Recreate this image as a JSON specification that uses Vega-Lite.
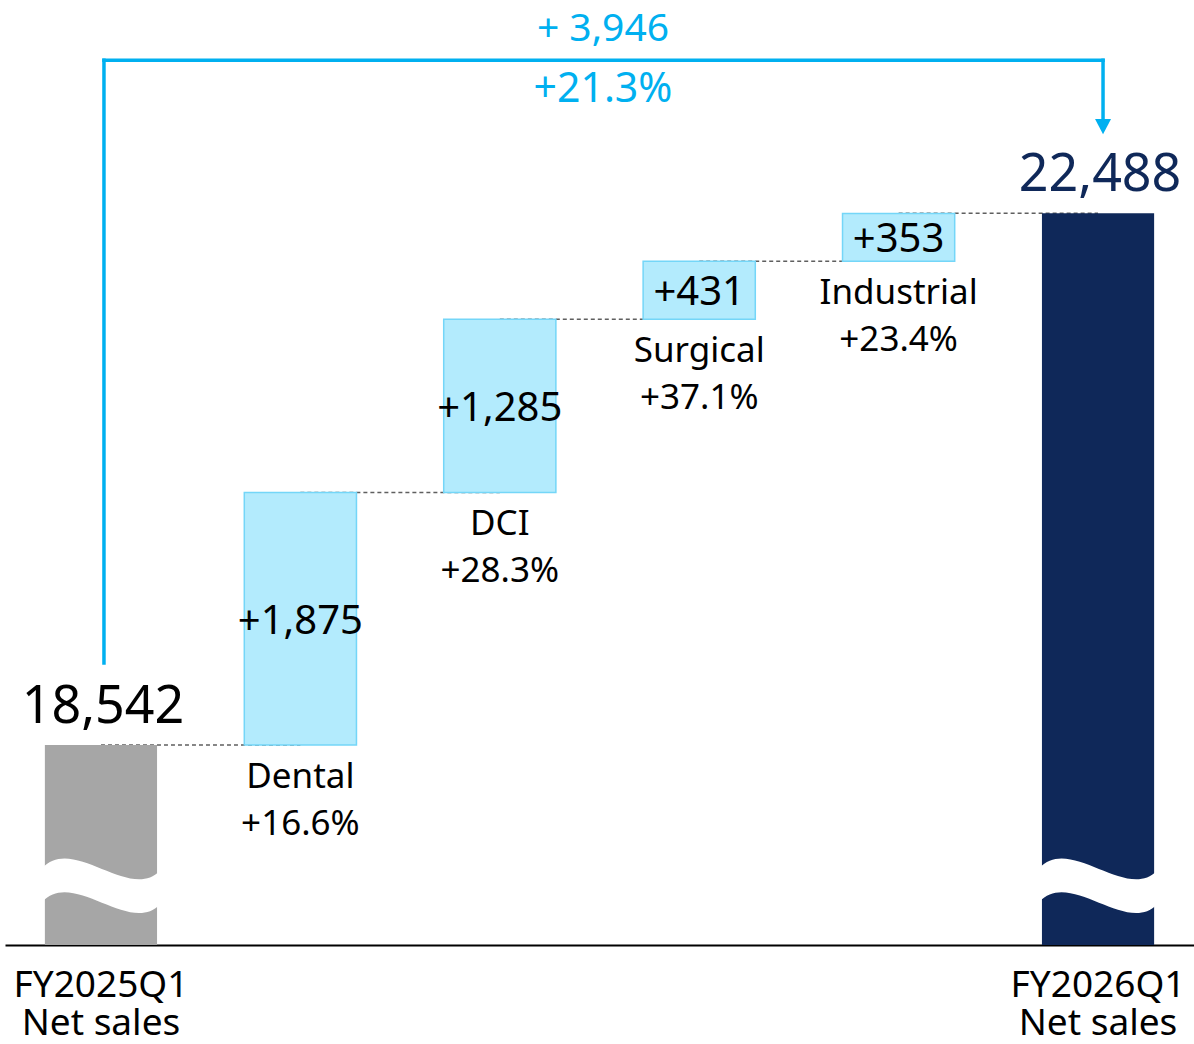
{
  "$schema": "https://vega.github.io/schema/vega-lite/v6.json",
  "width": 1189,
  "height": 945,
  "autosize": {"type": "none"},
  "padding": {"left": 5, "top": 0, "right": 0, "bottom": 99},
  "background": "white",
  "config": {
    "view": {"stroke": null},
    "font": "Noto Sans",
    "axisX": {
      "domain": true, "domainColor": "black", "domainWidth": 2,
      "ticks": false, "tickSize": 0, "grid": false,
      "labelPadding": 22, "labelFontSize": 37, "labelFont": "Noto Sans", "labelColor": "black",
      "labelLineHeight": 38, "labelAngle": 0, "labelLimit": 0, "labelOverlap": false,
      "labelExpr": "indexof(datum.value,'|') >= 0 ? split(datum.value,'|') : ''"
    }
  },
  "datasets": {
    "steps": [
      {"cat": "FY2025Q1|Net sales", "kind": "prev", "start": null, "end": 18542, "value": "18,542", "name": ""},
      {"cat": "Dental", "kind": "delta", "start": 18542, "end": 20417, "value": "+1,875", "name": "Dental\n+16.6%"},
      {"cat": "DCI", "kind": "delta", "start": 20417, "end": 21702, "value": "+1,285", "name": "DCI\n+28.3%"},
      {"cat": "Surgical", "kind": "delta", "start": 21702, "end": 22133, "value": "+431", "name": "Surgical\n+37.1%"},
      {"cat": "Industrial", "kind": "delta", "start": 22133, "end": 22486, "value": "+353", "name": "Industrial\n+23.4%"},
      {"cat": "FY2026Q1|Net sales", "kind": "cur", "start": null, "end": 22488, "value": "22,488", "name": ""}
    ],
    "links": [
      {"a": "FY2025Q1|Net sales", "b": "Dental", "v": 18542},
      {"a": "Dental", "b": "DCI", "v": 20417},
      {"a": "DCI", "b": "Surgical", "v": 21702},
      {"a": "Surgical", "b": "Industrial", "v": 22133},
      {"a": "Industrial", "b": "FY2026Q1|Net sales", "v": 22488}
    ],
    "total": [
      {"from": "FY2025Q1|Net sales", "to": "FY2026Q1|Net sales", "v0": 18542, "v1": 22488, "diff": "+ 3,946", "pct": "+21.3%"}
    ]
  },
  "layer": [
    {
      "data": {"name": "links"},
      "mark": {"type": "rule", "stroke": "#5f5f5f", "strokeWidth": 1.5, "strokeDash": [4, 3]},
      "encoding": {
        "x": {"field": "a", "type": "nominal", "title": null, "scale": {"domain": ["FY2025Q1|Net sales", "Dental", "DCI", "Surgical", "Industrial", "FY2026Q1|Net sales"], "paddingInner": 0.4375, "paddingOuter": 0.2}},
        "x2": {"field": "b"},
        "y": {"field": "v", "type": "quantitative", "axis": null, "scale": {"domain": [17058, 24071], "nice": false, "zero": false}}
      }
    },
    {
      "data": {"name": "steps"},
      "transform": [{"filter": "datum.kind == 'delta'"}],
      "mark": {"type": "bar", "fill": "#b3ebfd", "stroke": "#74d6f8", "strokeWidth": 1.5},
      "encoding": {
        "x": {"field": "cat", "type": "nominal", "title": null},
        "y": {"field": "start", "type": "quantitative", "axis": null},
        "y2": {"field": "end"}
      }
    },
    {
      "data": {"name": "steps"},
      "transform": [{"filter": "datum.kind != 'delta'"}],
      "mark": {"type": "bar", "clip": true},
      "encoding": {
        "x": {"field": "cat", "type": "nominal", "title": null},
        "y": {"field": "end", "type": "quantitative", "axis": null},
        "color": {"field": "kind", "type": "nominal", "legend": null, "scale": {"domain": ["prev", "cur"], "range": ["#a6a6a6", "#0f2859"]}}
      }
    },
    {
      "data": {"name": "steps"},
      "transform": [{"filter": "datum.kind != 'delta'"}],
      "mark": {"type": "point", "shape": "M-1.05,-0.3C-0.5,-0.9,0.5,0.3,1.05,-0.25L1.05,0.35C0.5,0.9,-0.5,-0.3,-1.05,0.3Z", "size": 12544, "filled": true, "color": "white", "opacity": 1, "strokeWidth": 0},
      "encoding": {
        "x": {"field": "cat", "type": "nominal", "title": null},
        "y": {"datum": 17503, "type": "quantitative", "axis": null}
      }
    },
    {
      "data": {"name": "steps"},
      "transform": [{"filter": "datum.kind != 'delta'"}],
      "mark": {"type": "text", "font": "Noto Sans", "fontSize": 52, "baseline": "alphabetic", "align": "center", "dy": -22, "dx": 2},
      "encoding": {
        "x": {"field": "cat", "type": "nominal", "title": null},
        "y": {"field": "end", "type": "quantitative", "axis": null},
        "text": {"field": "value"},
        "color": {"condition": {"test": "datum.kind == 'cur'", "value": "#0f2859"}, "value": "#000000"}
      }
    },
    {
      "data": {"name": "steps"},
      "transform": [
        {"filter": "datum.kind == 'delta'"},
        {"fold": ["start", "end"], "as": ["k", "v"]}
      ],
      "mark": {"type": "text", "font": "Noto Sans", "fontSize": 40, "baseline": "middle", "align": "center", "dy": 3, "color": "#000000"},
      "encoding": {
        "x": {"field": "cat", "type": "nominal", "title": null},
        "y": {"aggregate": "mean", "field": "v", "type": "quantitative", "axis": null},
        "text": {"field": "value"}
      }
    },
    {
      "data": {"name": "steps"},
      "transform": [{"filter": "datum.kind == 'delta'"}],
      "mark": {"type": "text", "font": "Noto Sans", "fontSize": 35, "baseline": "alphabetic", "align": "center", "dy": 43, "lineBreak": "\n", "lineHeight": 47, "color": "#000000"},
      "encoding": {
        "x": {"field": "cat", "type": "nominal", "title": null},
        "y": {"field": "start", "type": "quantitative", "axis": null},
        "text": {"field": "name"}
      }
    },
    {
      "data": {"name": "total"},
      "mark": {"type": "rule", "stroke": "#00b0f0", "strokeWidth": 3.5, "strokeCap": "square", "xOffset": 3, "yOffset": -82, "y2Offset": -153},
      "encoding": {
        "x": {"field": "from", "type": "nominal", "title": null},
        "y": {"field": "v0", "type": "quantitative", "axis": null},
        "y2": {"field": "v1"}
      }
    },
    {
      "data": {"name": "total"},
      "mark": {"type": "rule", "stroke": "#00b0f0", "strokeWidth": 3.5, "strokeCap": "square", "xOffset": 3, "x2Offset": 5, "yOffset": -153},
      "encoding": {
        "x": {"field": "from", "type": "nominal", "title": null},
        "x2": {"field": "to"},
        "y": {"field": "v1", "type": "quantitative", "axis": null}
      }
    },
    {
      "data": {"name": "total"},
      "mark": {"type": "rule", "stroke": "#00b0f0", "strokeWidth": 3.5, "strokeCap": "square", "xOffset": 5, "yOffset": -153, "y2Offset": -89},
      "encoding": {
        "x": {"field": "to", "type": "nominal", "title": null},
        "y": {"field": "v1", "type": "quantitative", "axis": null},
        "y2": {"field": "v1"}
      }
    },
    {
      "data": {"name": "total"},
      "mark": {"type": "point", "shape": "M-1,-0.9L1,-0.9L0,1Z", "size": 256, "filled": true, "color": "#00b0f0", "opacity": 1, "strokeWidth": 0, "xOffset": 5, "yOffset": -87},
      "encoding": {
        "x": {"field": "to", "type": "nominal", "title": null},
        "y": {"field": "v1", "type": "quantitative", "axis": null}
      }
    },
    {
      "data": {"name": "total"},
      "mark": {"type": "text", "font": "Noto Sans", "fontSize": 39, "baseline": "alphabetic", "align": "center", "dx": 502, "dy": -172, "color": "#00b0f0"},
      "encoding": {
        "x": {"field": "from", "type": "nominal", "title": null},
        "y": {"field": "v1", "type": "quantitative", "axis": null},
        "text": {"field": "diff"}
      }
    },
    {
      "data": {"name": "total"},
      "mark": {"type": "text", "font": "Noto Sans", "fontSize": 41, "baseline": "alphabetic", "align": "center", "dx": 502, "dy": -111, "color": "#00b0f0"},
      "encoding": {
        "x": {"field": "from", "type": "nominal", "title": null},
        "y": {"field": "v1", "type": "quantitative", "axis": null},
        "text": {"field": "pct"}
      }
    }
  ]
}
